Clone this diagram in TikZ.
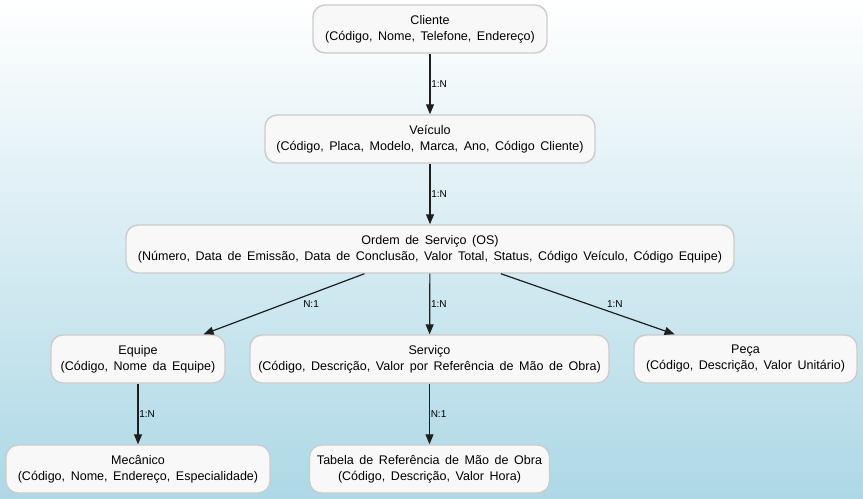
\documentclass[tikz,border=0pt]{standalone}
\usepackage{fontspec}
\setmainfont{Liberation Sans}[WordSpace=1.6]
\usetikzlibrary{arrows.meta}
\definecolor{fundo}{RGB}{173,216,230}
\definecolor{caixa}{RGB}{248,248,248}
\definecolor{borda}{RGB}{204,204,204}
\definecolor{linha}{RGB}{30,30,30}
\begin{document}
\begin{tikzpicture}[x=0.75pt, y=-0.75pt,
    entidade/.style={draw=borda, line width=1.1pt, fill=caixa, rounded corners=9pt,
        align=center, inner sep=0pt, minimum height=36pt,
        font=\fontsize{9.4}{12}\selectfont},
    rel/.style={draw=linha, line width=0.9pt, -{Triangle[length=7.5pt,width=6pt]}},
    card/.style={font=\fontsize{7.5}{9}\selectfont, anchor=west, inner sep=0.5pt}]
    % Fundo
    \shade[top color=white, bottom color=fundo] (0,0) rectangle (863,499);

    % Entidades
    \node[entidade, minimum width=175.5pt] (cliente) at (430,29)
        {Cliente\\(Código, Nome, Telefone, Endereço)};
    \node[entidade, minimum width=247.5pt] (veiculo) at (430,139)
        {Veículo\\(Código, Placa, Modelo, Marca, Ano, Código Cliente)};
    \node[entidade, minimum width=456pt] (os) at (430,249)
        {Ordem de Serviço (OS)\\(Número, Data de Emissão, Data de Conclusão, Valor Total, Status, Código Veículo, Código Equipe)};
    \node[entidade, minimum width=130.5pt] (equipe) at (138,359)
        {Equipe\\(Código, Nome da Equipe)};
    \node[entidade, minimum width=269.25pt] (servico) at (429.5,359)
        {Serviço\\(Código, Descrição, Valor por Referência de Mão de Obra)};
    \node[entidade, minimum width=167.25pt] (peca) at (745.5,359)
        {Peça\\(Código, Descrição, Valor Unitário)};
    \node[entidade, minimum width=198pt] (mecanico) at (138,469)
        {Mecânico\\(Código, Nome, Endereço, Especialidade)};
    \node[entidade, minimum width=180pt] (tabela) at (429.5,469)
        {Tabela de Referência de Mão de Obra\\(Código, Descrição, Valor Hora)};

    % Relacionamentos
    \draw[rel] (cliente) -- node[card] {1:N} (veiculo);
    \draw[rel] (veiculo) -- node[card] {1:N} (os);
    \draw[rel] (os) -- node[card, xshift=13.5pt] {N:1} (equipe);
    \draw[rel] (os) -- node[card] {1:N} (servico);
    \draw[rel] (os) -- node[card, xshift=13.5pt] {1:N} (peca);
    \draw[rel] (equipe) -- node[card] {1:N} (mecanico);
    \draw[rel] (servico) -- node[card] {N:1} (tabela);
\end{tikzpicture}
\end{document}
